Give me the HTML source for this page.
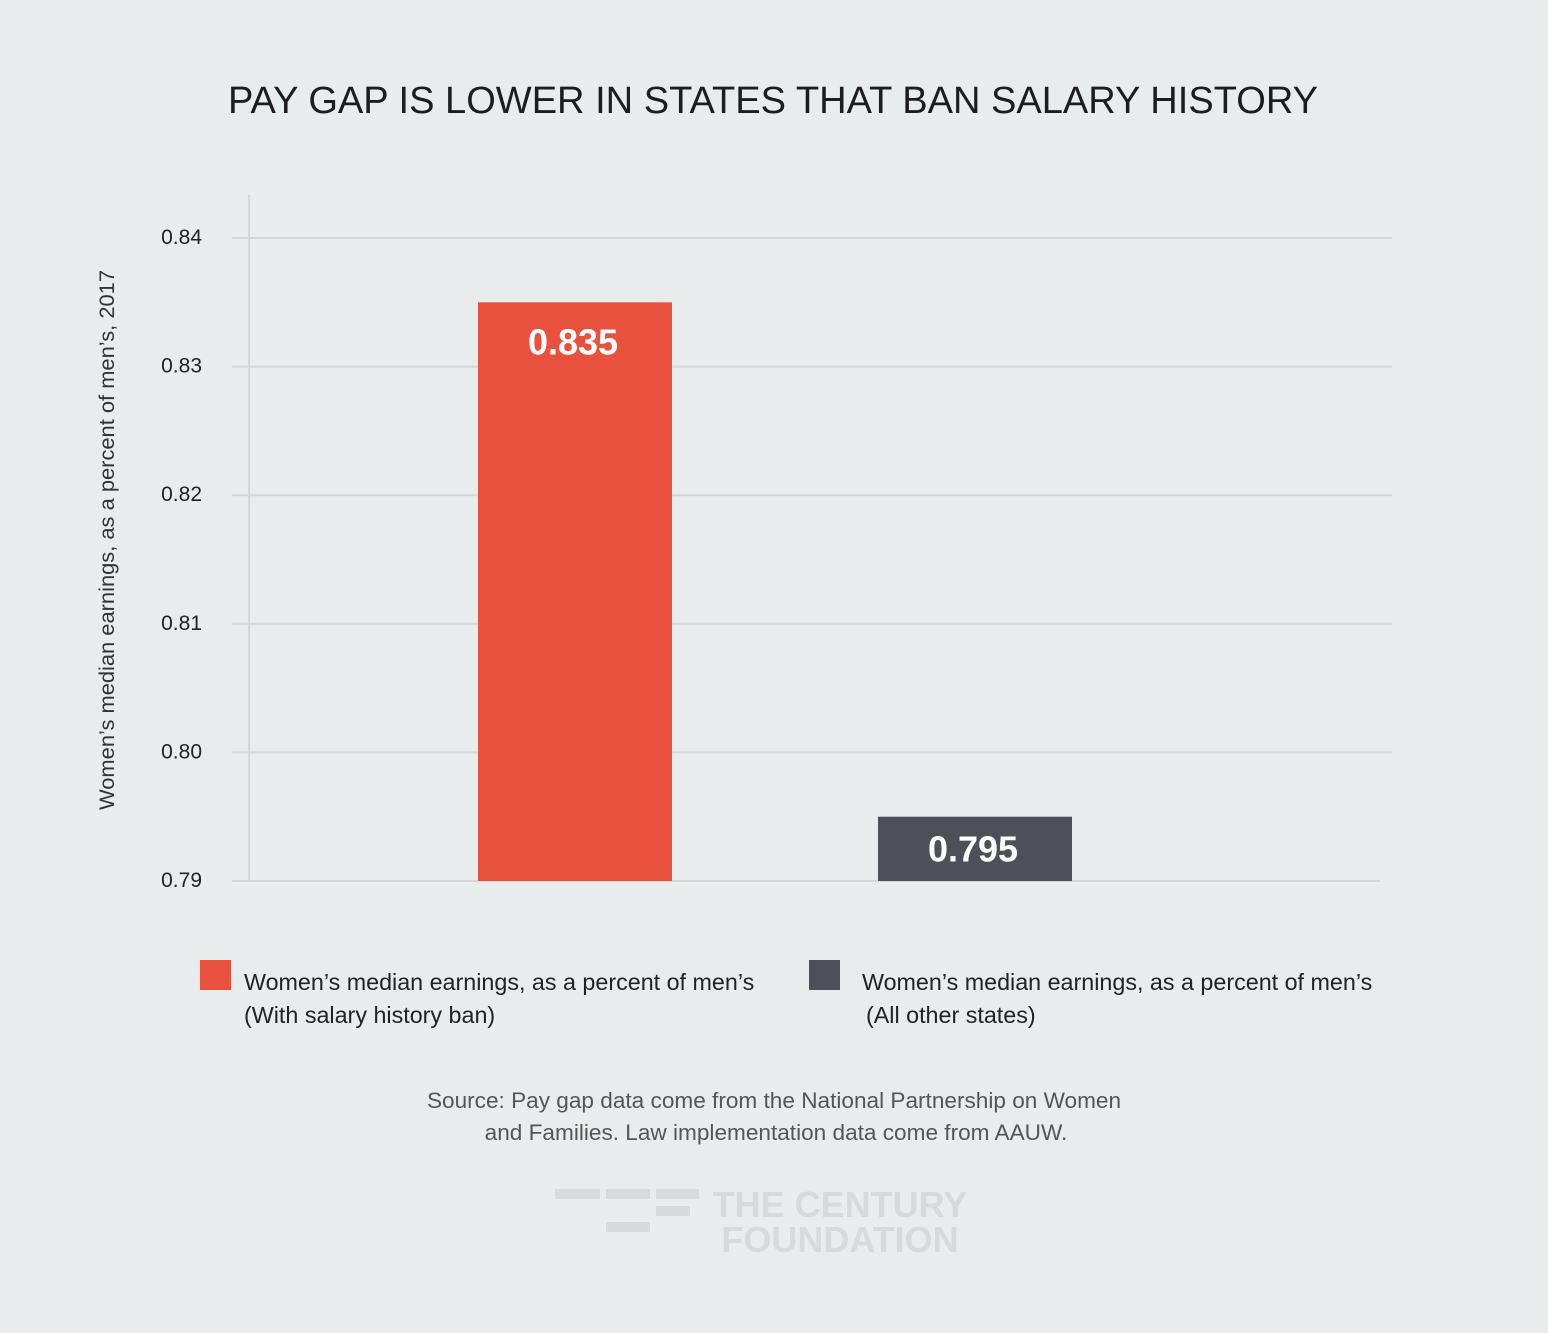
<!DOCTYPE html>
<html><head><meta charset="utf-8"><style>
body{margin:0;background:#e9eced;}
svg{display:block;font-family:"Liberation Sans",sans-serif;}
</style></head><body>
<svg width="1548" height="1333" viewBox="0 0 1548 1333">
<rect width="1548" height="1333" fill="#e9eced"/>
<text x="773" y="113" text-anchor="middle" font-size="38" textLength="1090" lengthAdjust="spacingAndGlyphs" fill="#1d1d1f">PAY GAP IS LOWER IN STATES THAT BAN SALARY HISTORY</text>
<g id="grid"></g>
<line x1="249" y1="195" x2="249" y2="882" stroke="#d4d6d8" stroke-width="2"/>
<g id="bars"></g>
<text transform="translate(114,540) rotate(-90)" text-anchor="middle" font-size="21.5" textLength="540" lengthAdjust="spacingAndGlyphs" fill="#333">Women’s median earnings, as a percent of men’s, 2017</text>
<g>
<rect x="200" y="960" width="31" height="30" fill="#e8513e"/>
<text x="244" y="990" font-size="23.3" fill="#222">Women’s median earnings, as a percent of men’s<tspan x="244" y="1023">(With salary history ban)</tspan></text>
<rect x="809" y="960" width="31" height="30" fill="#4d5059"/>
<text x="862" y="990" font-size="23.3" fill="#222">Women’s median earnings, as a percent of men’s<tspan x="866" y="1023">(All other states)</tspan></text>
</g>
<text x="774" y="1108" text-anchor="middle" font-size="22.6" fill="#555">Source: Pay gap data come from the National Partnership on Women<tspan x="776" y="1140">and Families. Law implementation data come from AAUW.</tspan></text>
<g fill="#d7d9da">
<rect x="555" y="1189" width="45" height="10"/><rect x="606" y="1189" width="44" height="10"/><rect x="656" y="1189" width="43" height="10"/>
<rect x="656" y="1206" width="34" height="10"/><rect x="606" y="1222" width="44" height="10"/>
<text x="840" y="1217" text-anchor="middle" font-size="36" font-weight="bold" fill="#d7d9da">THE CENTURY</text>
<text x="840" y="1252" text-anchor="middle" font-size="36" font-weight="bold" fill="#d7d9da">FOUNDATION</text>
</g>
</svg>
<script>
const categories=["With salary history ban","All other states"];
const values=[0.835,0.795];
const labels=["0.835","0.795"];
const ticks=[0.79,0.80,0.81,0.82,0.83,0.84];
const tickLabels=["0.79","0.80","0.81","0.82","0.83","0.84"];
const colors=["#e8513e","#4d5059"];
const NS="http://www.w3.org/2000/svg";
const y=v=>881-(v-0.79)/0.05*643;
const xc=[575,975];
const grid=document.getElementById('grid'),bars=document.getElementById('bars');
function mk(t,a,p){const e=document.createElementNS(NS,t);for(const k in a)e.setAttribute(k,a[k]);p.appendChild(e);return e;}
ticks.forEach((t,i)=>{
 const l=mk('line',{x1:232,x2:i==0?1380:1392,y1:y(t),y2:y(t),stroke:'#d4d6d8','stroke-width':2},grid);
 
 
 const tx=mk('text',{x:202,y:y(t)+6,'text-anchor':'end','font-size':21,fill:'#222'},grid);
 tx.textContent=tickLabels[i];
 
 
});
values.forEach((v,i)=>{
 const r=mk('rect',{x:xc[i]-97,y:y(v),width:194,height:y(0.79)-y(v),fill:colors[i]},bars);
 
 
 const t=mk('text',{x:xc[i]-2,y:y(v)+(i==0?52:45),'text-anchor':'middle','font-size':36,'font-weight':'bold',fill:'#fff'},bars);
 t.textContent=labels[i];
 
 
});
</script>
</body></html>
